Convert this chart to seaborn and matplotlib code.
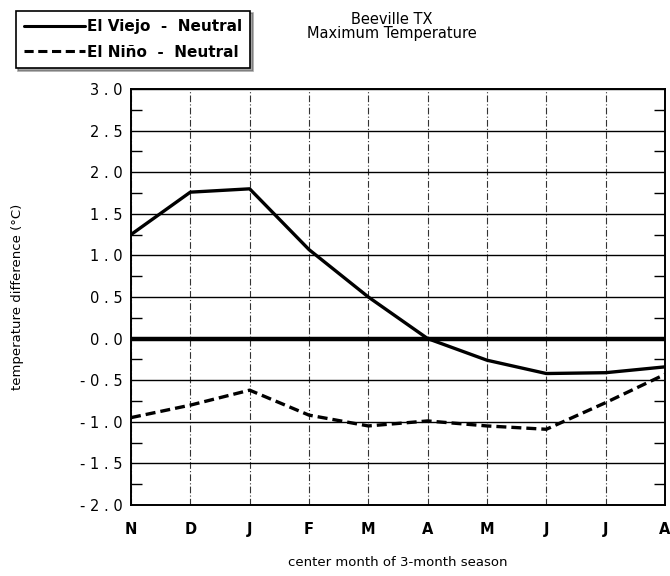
import pandas as pd
import matplotlib
matplotlib.use('Agg')
import matplotlib.pyplot as plt
from matplotlib.ticker import MultipleLocator
import seaborn as sns

# --- data ---
months = ['N', 'D', 'J', 'F', 'M', 'A', 'M', 'J', 'J', 'A']
el_viejo = [1.25, 1.76, 1.80, 1.07, 0.50, 0.00, -0.26, -0.42, -0.41, -0.34]
el_nino = [-0.95, -0.80, -0.62, -0.92, -1.05, -0.99, -1.05, -1.09, -0.77, -0.43]
y_ticks = [-2.0, -1.5, -1.0, -0.5, 0.0, 0.5, 1.0, 1.5, 2.0, 2.5, 3.0]

df = pd.DataFrame({
    'pos': list(range(len(months))) * 2,
    'diff': el_viejo + el_nino,
    'series': ['El Viejo  -  Neutral'] * len(months) + ['El Niño  -  Neutral'] * len(months),
})

sns.set_style('white')
plt.rcParams['font.family'] = ['DejaVu Sans']
plt.rcParams['text.color'] = 'black'
plt.rcParams['axes.labelcolor'] = 'black'
plt.rcParams['xtick.color'] = 'black'
plt.rcParams['ytick.color'] = 'black'

fig = plt.figure(figsize=(6.7, 5.76), dpi=100)
ax = fig.add_axes([0.1955, 0.1233, 0.797, 0.7222])

# zero reference line
ax.axhline(0, color='black', lw=3.2, zorder=3)

sns.lineplot(data=df, x='pos', y='diff', style='series',
             dashes={'El Viejo  -  Neutral': '', 'El Niño  -  Neutral': (3, 1.5)},
             color='black', linewidth=2.4, ax=ax, legend=False, zorder=4)

ax.set_xlim(0, len(months) - 1)
ax.set_ylim(-2.0, 3.0)
ax.set_xticks(range(len(months)))
ax.set_xticklabels(months, fontsize=10.5, fontweight='bold')
ax.set_yticks(y_ticks)
ax.set_yticklabels([f'{v:.1f}'.replace('-', '- ').replace('.', ' . ') for v in y_ticks],
                   fontsize=10.5)
ax.yaxis.set_minor_locator(MultipleLocator(0.25))
ax.tick_params(axis='y', which='both', direction='in', left=True, right=True,
               length=8, width=1, pad=6)
ax.tick_params(axis='y', which='major', length=0)
ax.tick_params(axis='x', length=0, pad=12)

ax.grid(axis='y', which='major', color='black', lw=1.0)
ax.grid(axis='x', which='major', color='#333333', lw=0.8, linestyle=(0, (6, 2, 1, 2)))
for s in ax.spines.values():
    s.set_color('black')
    s.set_linewidth(1.4)

ax.set_xlabel('center month of 3-month season', fontsize=9.5, labelpad=14)
ax.set_ylabel('temperature difference (°C)', fontsize=9.5, labelpad=40)

fig.text(0.585, 0.98, 'Beeville TX\nMaximum Temperature', ha='center', va='top',
         fontsize=10.5, linespacing=0.95)

handles = [plt.Line2D([], [], color='black', lw=2.2),
           plt.Line2D([], [], color='black', lw=2.2, dashes=(3, 1.5))]
leg = fig.legend(handles, ['El Viejo  -  Neutral', 'El Niño  -  Neutral'],
                 loc='upper left', bbox_to_anchor=(0.012, 0.995), frameon=True,
                 fancybox=False, shadow=True, edgecolor='black', handlelength=4.0,
                 handletextpad=0.1, borderpad=0.55, labelspacing=0.7,
                 prop={'size': 11, 'weight': 'bold'})
leg.get_frame().set_linewidth(1.2)

fig.savefig('out.png', dpi=100)
